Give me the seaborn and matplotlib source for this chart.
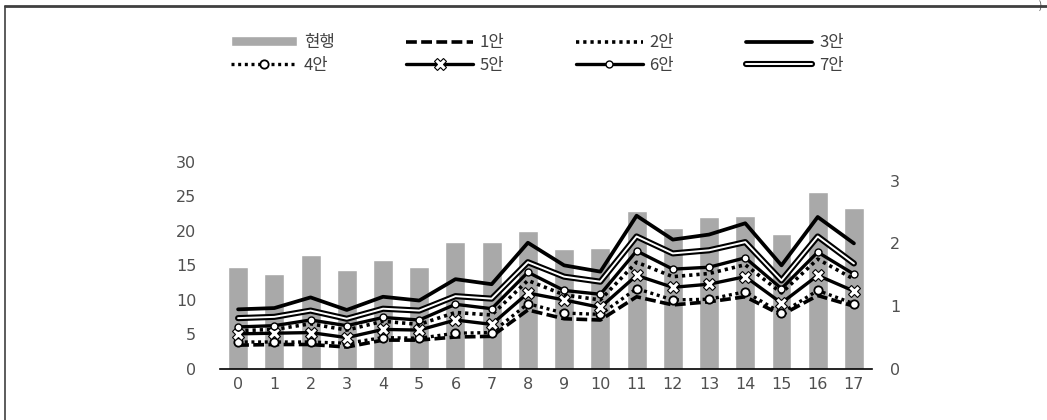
import matplotlib
matplotlib.use('Agg')
import matplotlib.pyplot as plt
import matplotlib.patheffects as pe
from matplotlib.lines import Line2D
import seaborn as sns
import pandas as pd

# ---------------- data ----------------
categories = [str(i) for i in range(18)]
current = [14.8, 13.7, 16.5, 14.35, 15.8, 14.8, 18.4, 18.4, 20.0, 17.3, 17.5,
           22.9, 20.45, 22.0, 22.2, 19.6, 25.6, 23.3]
plan1 = [0.38, 0.39, 0.39, 0.35, 0.46, 0.46, 0.51, 0.52, 0.94, 0.80, 0.78,
         1.15, 1.02, 1.07, 1.15, 0.86, 1.17, 1.00]
plan2 = [0.61, 0.63, 0.72, 0.62, 0.76, 0.71, 0.90, 0.86, 1.41, 1.18, 1.10,
         1.70, 1.47, 1.52, 1.66, 1.21, 1.75, 1.43]
plan3 = [0.95, 0.97, 1.14, 0.94, 1.15, 1.09, 1.43, 1.35, 2.01, 1.65, 1.55,
         2.44, 2.06, 2.14, 2.32, 1.65, 2.42, 2.00]
plan4 = [0.43, 0.43, 0.43, 0.41, 0.50, 0.49, 0.57, 0.58, 1.04, 0.89, 0.87,
         1.28, 1.10, 1.11, 1.23, 0.89, 1.25, 1.04]
plan5 = [0.56, 0.57, 0.58, 0.50, 0.63, 0.62, 0.78, 0.71, 1.21, 1.10, 0.98,
         1.49, 1.30, 1.35, 1.47, 1.05, 1.49, 1.24]
plan6 = [0.67, 0.69, 0.78, 0.69, 0.82, 0.78, 1.03, 0.96, 1.54, 1.25, 1.19,
         1.88, 1.59, 1.62, 1.77, 1.28, 1.86, 1.51]
plan7 = [0.81, 0.83, 0.93, 0.80, 0.96, 0.93, 1.16, 1.12, 1.70, 1.47, 1.39,
         2.11, 1.84, 1.89, 2.02, 1.41, 2.11, 1.68]
bar_label = '현행'
line_labels = ['1안', '2안', '3안', '4안', '5안', '6안', '7안']
left_ticks = [0, 5, 10, 15, 20, 25, 30]
right_ticks = [0, 1, 2, 3]

# ---------------- style ----------------
sns.set_theme(style='white')
plt.rcParams['font.family'] = ['Noto Sans CJK KR', 'DejaVu Sans']

fig = plt.figure(figsize=(10.47, 4.2), dpi=100)
ax = fig.add_axes([0.2101, 0.1214, 0.6228, 0.4936])

df_bar = pd.DataFrame({'cat': categories, 'val': current})
sns.barplot(data=df_bar, x='cat', y='val', color='#A9A9A9', saturation=1,
            width=0.55, ax=ax)
ax.set_xlim(-0.5, 17.5)
ax.set_ylim(0, 30)
ax.set_yticks(left_ticks)
ax.set_xlabel('')
ax.set_ylabel('')

ax2 = ax.twinx()
xs = list(range(len(categories)))
series = [plan1, plan2, plan3, plan4, plan5, plan6, plan7]
styles = [
    dict(color='black', lw=2.6, linestyle=(0, (3, 1.2))),
    dict(color='black', lw=2.6, linestyle=(0, (0.9, 1.1)), dash_capstyle='butt'),
    dict(color='black', lw=2.7, linestyle='-'),
    dict(color='black', lw=2.4, linestyle=(0, (0.9, 1.1)), marker='o', ms=6,
         mfc='white', mec='black', mew=1.3),
    dict(color='black', lw=2.4, linestyle='-', marker='X', ms=9,
         mfc='white', mec='black', mew=0.8),
    dict(color='black', lw=2.4, linestyle='-', marker='o', ms=5,
         mfc='white', mec='black', mew=1.0),
    dict(color='white', lw=1.4, linestyle='-',
         path_effects=[pe.Stroke(linewidth=4.4, foreground='black'), pe.Normal()]),
]
line_handles = {}
for name, vals, st in zip(line_labels, series, styles):
    sns.lineplot(x=xs, y=vals, ax=ax2, legend=False, label=name, **st)
    line_handles[name] = ax2.get_lines()[-1]

ax2.set_ylim(0, 3.3)
ax2.set_yticks(right_ticks)
ax2.set_ylabel('')

# axes styling
for a in (ax, ax2):
    for s in a.spines.values():
        s.set_visible(False)
    a.grid(False)
ax.spines['bottom'].set_visible(True)
ax.spines['bottom'].set_color('black')
ax.spines['bottom'].set_linewidth(1.2)
tick_font = ['DejaVu Sans']
ax.tick_params(axis='y', length=0, labelsize=11.5, labelcolor='#505050', pad=17)
ax.tick_params(axis='x', length=0, labelsize=11.5, labelcolor='#505050', pad=6)
ax2.tick_params(axis='y', length=0, labelsize=11.5, labelcolor='#505050', pad=13)
for lab in ax.get_xticklabels() + ax.get_yticklabels() + ax2.get_yticklabels():
    lab.set_family(tick_font)

# legend (row-wise order with 4 columns)
bar_handle = ax.patches[0]
order = [(bar_handle, bar_label), (line_handles['4안'], '4안'),
         (line_handles['1안'], '1안'), (line_handles['5안'], '5안'),
         (line_handles['2안'], '2안'), (line_handles['6안'], '6안'),
         (line_handles['3안'], '3안'), (line_handles['7안'], '7안')]
fig.legend([h for h, _ in order], [l for _, l in order], ncol=4,
           loc='center', bbox_to_anchor=(0.513, 0.872), frameon=False,
           fontsize=12, handlelength=4.0, handleheight=0.5,
           handletextpad=0.4, columnspacing=4.3, labelspacing=0.33,
           labelcolor='#404040')

# frame lines of the original picture
fig.add_artist(Line2D([0.0045, 1.0], [0.986, 0.986], transform=fig.transFigure,
                      color='#404040', lw=2))
fig.add_artist(Line2D([0.0045, 0.0045], [0.0, 0.986], transform=fig.transFigure,
                      color='#404040', lw=1.2))
fig.text(0.9935, 0.999, ')', ha='center', va='top', fontsize=7, color='#404040')

fig.savefig('out.png', dpi=100, facecolor='white')
